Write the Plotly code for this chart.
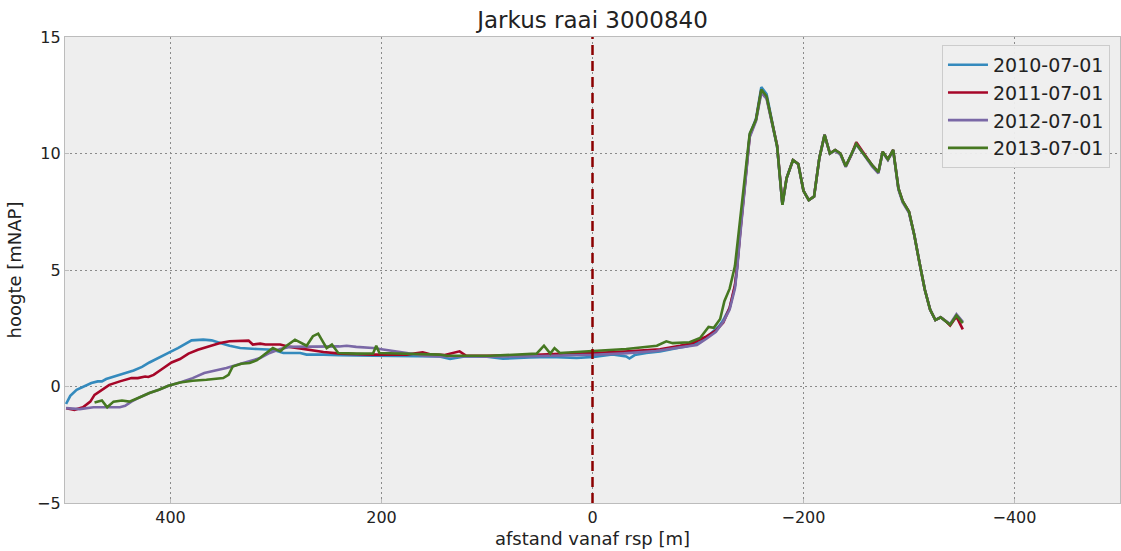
import plotly.graph_objects as go

dune_x = [-145, -149, -155, -160, -165, -170, -175, -180, -184, -190, -195, -200, -205, -210,
          -215, -220, -225, -230, -235, -240, -245, -250, -255, -260, -265, -271, -275, -280,
          -285, -290, -294, -300, -305, -310, -315, -320, -325, -330, -335, -339, -345, -351]
dune_y = [8.9, 10.75, 11.45, 12.75, 12.45, 11.4, 10.3, 7.8, 8.95, 9.72, 9.55, 8.4, 8.0, 8.15,
          9.8, 10.8, 10.0, 10.15, 10.0, 9.45, 9.9, 10.42, 10.1, 9.78, 9.5, 9.2, 10.08, 9.75,
          10.15, 8.5, 7.95, 7.5, 6.5, 5.3, 4.15, 3.3, 2.85, 2.97, 2.8, 2.65, 3.05, 2.72]

x_2010 = [499, 495, 489, 481, 475, 469, 465, 461, 454, 445, 435, 427, 420, 411, 402, 393, 386,
          380, 369, 361, 353, 344, 334, 325, 318, 303, 293, 277, 271, 255, 240, 208, 176, 145,
          135, 120, 100, 85, 60, 40, 15, -1, -19, -32, -35, -40, -51, -64, -83, -89, -102, -108,
          -114, -120, -124, -130, -135, -137, -140]
y_2010 = [-0.75, -0.4, -0.14, 0.03, 0.15, 0.22, 0.22, 0.32, 0.41, 0.55, 0.69, 0.84, 1.03, 1.22,
          1.44, 1.65, 1.84, 1.98, 2.01, 1.98, 1.87, 1.75, 1.65, 1.61, 1.61, 1.58, 1.44, 1.44,
          1.37, 1.37, 1.34, 1.32, 1.32, 1.29, 1.18, 1.3, 1.28, 1.19, 1.25, 1.27, 1.22, 1.27,
          1.37, 1.29, 1.2, 1.35, 1.44, 1.5, 1.68, 1.72, 1.9, 2.1, 2.35, 2.6, 2.85, 3.38, 4.3,
          5.1, 6.7]
dune_y_2010 = [8.9, 10.8, 11.5, 12.85, 12.55, 11.45, 10.3, 7.8, 8.95, 9.72, 9.55, 8.4, 8.0, 8.15,
               9.8, 10.8, 10.0, 10.15, 10.0, 9.45, 9.9, 10.4, 10.1, 9.78, 9.5, 9.2, 10.08, 9.75,
               10.15, 8.5, 7.95, 7.5, 6.5, 5.3, 4.15, 3.3, 2.85, 2.97, 2.8, 2.65, 3.05, 2.75]

x_2011 = [499, 491, 483, 476, 472, 465, 458, 448, 437, 431, 424, 421, 416, 409, 399, 391, 383,
          374, 364, 353, 344, 334, 326, 322, 315, 310, 296, 287, 271, 255, 239, 208, 176, 161,
          154, 140, 126, 120, 100, 60, 12, -1, -30, -51, -64, -83, -95, -108, -117, -124, -130,
          -135, -137, -140]
y_2011 = [-0.93, -1.0, -0.89, -0.65, -0.36, -0.14, 0.07, 0.22, 0.36, 0.36, 0.43, 0.41, 0.5, 0.72,
          1.03, 1.18, 1.41, 1.58, 1.72, 1.87, 1.94, 1.97, 1.97, 1.8, 1.84, 1.8, 1.8, 1.7, 1.58,
          1.48, 1.41, 1.37, 1.37, 1.47, 1.38, 1.35, 1.51, 1.33, 1.32, 1.35, 1.44, 1.44, 1.5,
          1.58, 1.6, 1.75, 1.87, 2.15, 2.4, 2.75, 3.38, 4.35, 5.1, 6.6]
dune_y_2011 = [8.9, 10.75, 11.45, 12.7, 12.4, 11.4, 10.35, 7.85, 8.95, 9.72, 9.55, 8.4, 8.0, 8.15,
               9.8, 10.8, 10.0, 10.15, 10.0, 9.45, 9.9, 10.48, 10.15, 9.8, 9.5, 9.2, 10.08, 9.75,
               10.15, 8.5, 7.95, 7.5, 6.5, 5.3, 4.15, 3.3, 2.85, 2.97, 2.8, 2.62, 3.0, 2.45]

x_2012 = [499, 486, 473, 461, 448, 443, 437, 429, 420, 411, 402, 391, 379, 368, 347, 331, 315,
          306, 296, 287, 271, 255, 240, 233, 224, 208, 192, 176, 161, 145, 120, 100, 60, 20, -1,
          -30, -60, -83, -99, -108, -117, -124, -130, -135, -137, -140]
y_2012 = [-0.93, -0.97, -0.89, -0.9, -0.89, -0.83, -0.65, -0.46, -0.28, -0.14, 0.03, 0.17, 0.36,
          0.58, 0.79, 1.01, 1.22, 1.44, 1.61, 1.7, 1.7, 1.7, 1.72, 1.75, 1.7, 1.65, 1.55, 1.44,
          1.32, 1.29, 1.3, 1.28, 1.3, 1.33, 1.36, 1.42, 1.52, 1.68, 1.78, 2.05, 2.35, 2.78, 3.3,
          4.2, 5.0, 6.5]
dune_y_2012 = [8.85, 10.7, 11.4, 12.6, 12.35, 11.35, 10.3, 7.8, 8.95, 9.7, 9.55, 8.4, 8.0, 8.15,
               9.8, 10.8, 10.0, 10.12, 9.95, 9.42, 9.88, 10.4, 10.1, 9.75, 9.45, 9.15, 10.05, 9.72,
               10.12, 8.45, 7.9, 7.45, 6.5, 5.3, 4.15, 3.3, 2.85, 2.97, 2.8, 2.68, 3.1, 2.78]

x_2013 = [472, 465, 460, 454, 446, 439, 429, 420, 411, 402, 391, 379, 366, 356, 350, 345, 341,
          333, 325, 318, 309, 303, 296, 290, 282, 271, 265, 260, 252, 247, 241, 224, 208, 205,
          202, 176, 145, 138, 97, 53, 46, 40, 36, 31, -1, -20, -32, -61, -70, -76, -92, -102,
          -110, -115, -121, -125, -130, -135, -139, -144, -149]
y_2013 = [-0.69, -0.6, -0.89, -0.65, -0.6, -0.65, -0.46, -0.28, -0.14, 0.03, 0.17, 0.25, 0.29,
          0.32, 0.36, 0.5, 0.86, 0.98, 1.01, 1.13, 1.44, 1.65, 1.51, 1.75, 2.01, 1.75, 2.16, 2.27,
          1.65, 1.8, 1.44, 1.41, 1.42, 1.75, 1.44, 1.4, 1.37, 1.32, 1.32, 1.41, 1.75, 1.41, 1.65,
          1.44, 1.51, 1.58, 1.61, 1.75, 1.94, 1.86, 1.9, 2.08, 2.56, 2.52, 2.9, 3.66, 4.2, 5.17,
          6.75, 8.91, 10.85]
dune_x_2013 = dune_x[2:]
dune_y_2013 = dune_y[2:]

labels = ["2010-07-01", "2011-07-01", "2012-07-01", "2013-07-01"]
colors = ["#348ABD", "#A60628", "#7A68A6", "#467821"]

series = [
    (x_2010 + dune_x, y_2010 + dune_y_2010),
    (x_2011 + dune_x, y_2011 + dune_y_2011),
    (x_2012 + dune_x, y_2012 + dune_y_2012),
    (x_2013 + dune_x_2013, y_2013 + dune_y_2013),
]

fig = go.Figure()
for (xs, ys), lab, col in zip(series, labels, colors):
    fig.add_trace(go.Scatter(x=xs, y=ys, mode="lines", name=lab, legendgroup=lab,
                             line=dict(color=col, width=2.6)))

fig.add_shape(type="line", x0=0, x1=0, y0=-5, y1=15, xref="x", yref="y",
              line=dict(color="#8B0000", width=2.5, dash="10px,6px"))

axis_common = dict(
    showgrid=True, gridcolor="#8a8a8a", griddash="1.5px,3.5px", gridwidth=1,
    showline=True, linecolor="#bcbcbc", linewidth=1.2, mirror=True,
    ticks="inside", ticklen=4, tickcolor="#bcbcbc",
    tickfont=dict(family="DejaVu Sans", size=16, color="#222222"),
    zeroline=False,
)

fig.update_layout(
    width=1121, height=551,
    margin=dict(l=65, r=1, t=37, b=48),
    paper_bgcolor="white", plot_bgcolor="#eeeeee",
    font=dict(family="DejaVu Sans", color="#222222"),
    title=dict(text="Jarkus raai 3000840", x=0.5, xref="paper", xanchor="center",
               y=0.963, yanchor="middle",
               font=dict(family="DejaVu Sans", size=23, color="#222222")),
    xaxis=dict(range=[500, -500], tickvals=[400, 200, 0, -200, -400],
               title=dict(text="afstand vanaf rsp [m]", standoff=6,
                          font=dict(family="DejaVu Sans", size=18)),
               **axis_common),
    yaxis=dict(range=[-5, 15], tickvals=[-5, 0, 5, 10, 15],
               title=dict(text="hoogte [mNAP]", standoff=10,
                          font=dict(family="DejaVu Sans", size=18)),
               **axis_common),
    legend=dict(x=0.9905, xanchor="right", y=0.983, yanchor="top",
                bgcolor="rgba(238,238,238,0.95)", bordercolor="#cccccc", borderwidth=1,
                font=dict(family="DejaVu Sans", size=19, color="#222222"),
                tracegroupgap=0, itemwidth=40),
    showlegend=True,
)

fig.write_html("out.html")
